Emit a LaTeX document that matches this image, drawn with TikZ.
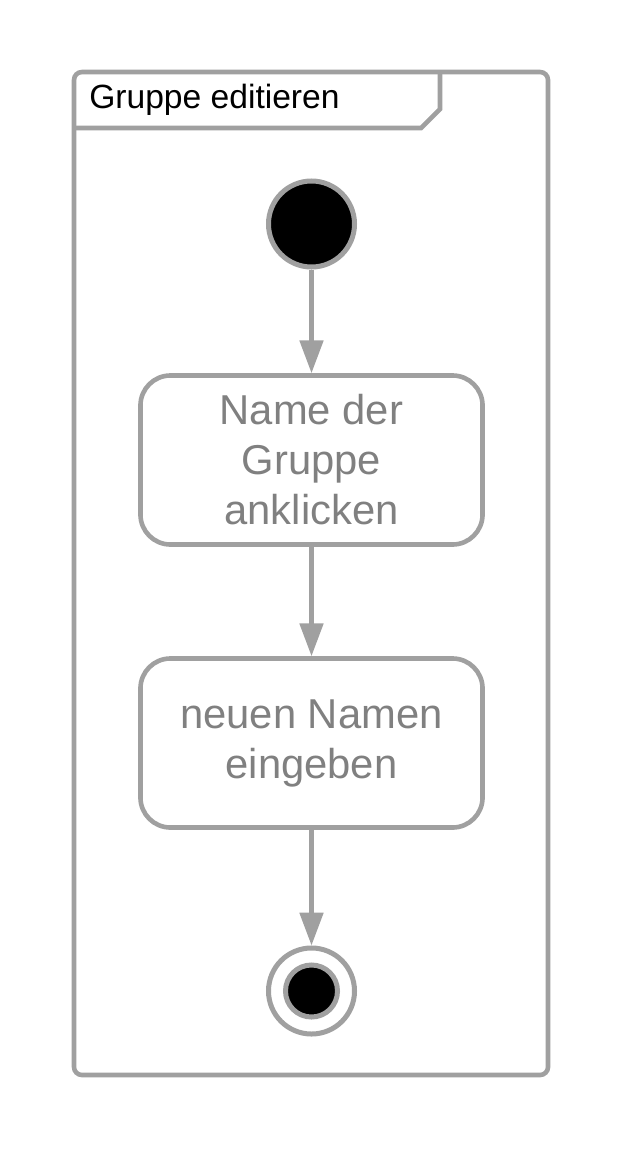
\documentclass[tikz,border=0pt]{standalone}
\usepackage{fontspec}
\setmainfont{Liberation Sans}
\usetikzlibrary{positioning,arrows.meta}
\definecolor{umlline}{HTML}{A0A0A0}
\definecolor{umltext}{HTML}{808080}

\begin{document}
\begin{tikzpicture}[
    x=0.025cm, y=-0.025cm,
    flow/.style={draw=umlline, line width=0.11cm, -{Triangle[length=0.82cm, width=0.58cm]}},
    actnode/.style={draw=umlline, line width=0.115cm, rectangle, rounded corners=0.75cm, align=center,
        minimum width=8.55cm, minimum height=4.225cm, text=umltext,
        font=\fontsize{29.7}{35.6}\selectfont},
    startnode/.style={circle, draw=umlline, line width=0.125cm, fill=black, minimum size=2.15cm, inner sep=0pt},
    endring/.style={circle, draw=umlline, line width=0.125cm, fill=white, minimum size=2.15cm, inner sep=0pt},
    enddot/.style={circle, draw=umlline, line width=0.125cm, fill=black, minimum size=1.3cm, inner sep=0pt}
]
\useasboundingbox (0,0) rectangle (624,1151);

% frame with name tab
\draw[umlline, line width=0.115cm, rounded corners=0.2cm] (74,72) rectangle (548,1075);
\draw[umlline, line width=0.115cm] (74,128) -- (421,128) -- (440,109) -- (440,72);
\node[anchor=base west, inner sep=0pt, font=\fontsize{23.9}{28}\selectfont] (title) at (89,108) {Gruppe editieren};

% activity
\node[startnode] (start) at (311.5,224) {};
\node[actnode] (klick) at (311.5,460) {Name der\\Gruppe\\anklicken};
\node[actnode] (eingabe) at (311.5,743) {neuen Namen\\eingeben};
\node[endring] (ende) at (311.5,991) {};
\node[enddot] (endedot) at (311.5,991) {};

\draw[flow] (start) -- (klick);
\draw[flow] (klick) -- (eingabe);
\draw[flow] (eingabe) -- (ende);
\end{tikzpicture}
\end{document}
